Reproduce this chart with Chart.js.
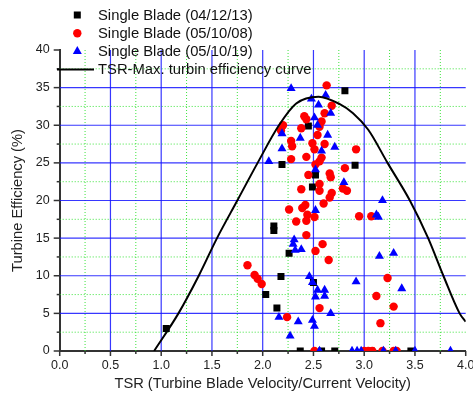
<!DOCTYPE html>
<html><head><meta charset="utf-8">
<script src="https://cdn.jsdelivr.net/npm/chart.js@4.4.0/dist/chart.umd.min.js"></script>
<style>html,body{margin:0;padding:0;background:#fff;overflow:hidden}</style>
</head><body>
<canvas id="c" width="473" height="401"></canvas>
<script>
// ---------- DATA ----------
const seriesLabels = ['Single Blade (04/12/13)', 'Single Blade (05/10/08)', 'Single Blade (05/10/19)', 'TSR-Max. turbin efficiency curve'];

const blade041213X = [1.05, 2.03, 2.14, 2.18, 2.11, 2.11, 2.26, 2.19, 2.45, 2.49, 2.52, 2.50, 2.91, 2.81, 2.37, 2.58, 2.71, 3.07, 3.46];
const blade041213Y = [3.0, 7.5, 5.7, 9.9, 16.0, 16.6, 13.0, 24.8, 29.9, 21.8, 23.4, 9.1, 24.7, 34.6, 0, 0, 0, 0, 0];

const blade051008X = [1.85, 1.92, 1.95, 1.99, 2.24, 2.20, 2.18, 2.28, 2.29, 2.28, 2.26, 2.33, 2.38, 2.41, 2.43, 2.43, 2.45, 2.38, 2.42, 2.39,
                      2.44, 2.51, 2.43, 2.43, 2.59, 2.52, 2.65, 2.56, 2.63, 2.68, 2.61, 2.58, 2.56, 2.54, 2.49, 2.51, 2.61, 2.58, 2.52, 2.56,
                      2.66, 2.67, 2.56, 2.56, 2.68, 2.66, 2.60, 2.92, 2.81, 2.79, 2.83, 2.95, 3.07, 3.23, 3.12, 3.29, 3.16,
                      2.51, 3.00, 3.04, 3.08, 3.18, 3.29, 3.32];
const blade051008Y = [11.4, 10.1, 9.6, 8.9, 4.5, 30.0, 29.3, 27.9, 27.2, 25.5, 18.8, 17.2, 29.6, 31.2, 30.8, 25.8, 23.4, 21.5, 19.4, 19.0,
                      18.1, 17.8, 17.3, 15.4, 14.2, 13.3, 12.1, 5.7, 35.3, 32.6, 31.6, 30.5, 29.8, 28.7, 27.6, 26.8, 27.5, 25.7, 24.8, 25.2,
                      23.6, 23.1, 22.2, 21.3, 21.0, 20.4, 19.6, 26.8, 24.3, 21.6, 21.3, 17.9, 17.9, 9.7, 7.3, 5.9, 3.7,
                      0, 0, 0, 0, 0, 0, 0];

const blade051019X = [2.28, 2.62, 2.48, 2.55, 2.67, 2.51, 2.54, 2.19, 2.37, 2.64, 2.19, 2.71, 2.58, 2.06, 2.52, 2.80, 2.52, 3.18, 3.12, 3.14,
                      2.31, 2.30, 2.38, 2.32, 3.15, 3.29, 2.46, 2.49, 2.92, 2.54, 2.61, 2.52, 2.61, 3.37, 2.16, 2.35, 2.49, 2.51, 2.67, 2.27,
                      2.56, 2.88, 2.93, 2.97, 3.19, 3.31, 3.50, 3.85];
const blade051019Y = [34.9, 34.0, 33.5, 32.7, 31.6, 31.0, 30.0, 28.9, 28.3, 28.7, 26.9, 27.1, 26.6, 25.2, 24.1, 22.4, 18.7, 20.0, 18.1, 17.8,
                      14.8, 14.2, 13.5, 13.4, 12.6, 13.0, 9.9, 9.1, 9.2, 8.1, 8.1, 7.2, 7.3, 8.3, 4.5, 3.9, 4.1, 3.3, 5.0, 2.0,
                      0, 0, 0, 0, 0, 0, 0, 0];

const curveX = [0.93, 1.17, 1.37, 1.55, 1.75, 1.95, 2.16, 2.33, 2.55, 2.76, 2.89, 3.04, 3.23, 3.45, 3.63, 3.78, 3.94, 4.00];
const curveY = [0.0, 5.0, 10.0, 15.0, 20.0, 25.0, 30.0, 32.9, 33.8, 32.8, 31.6, 29.4, 25.0, 20.0, 15.0, 10.0, 5.0, 3.9];

const xTickLabels = ['0.0','0.5','1.0','1.5','2.0','2.5','3.0','3.5','4.0'];
const yTickLabels = ['0','5','10','15','20','25','30','35','40'];

// ---------- STYLE ----------
const FAM = '"Liberation Sans", Arial, Helvetica, sans-serif';
const pts = (xs, ys) => xs.map((x, i) => ({x, y: ys[i]}));

const gridPlugin = {
  id: 'originGrid',
  beforeDatasetsDraw(chart) {
    const {ctx, chartArea: a, scales: {x, y}} = chart;
    const seg = (x1, y1, x2, y2) => { ctx.beginPath(); ctx.moveTo(x1, y1); ctx.lineTo(x2, y2); ctx.stroke(); };
    ctx.save();
    ctx.lineWidth = 1;
    ctx.strokeStyle = 'rgba(40,225,40,0.9)';
    ctx.setLineDash([1, 2]);
    for (let v = 2.5; v < 40; v += 5) { const p = y.getPixelForValue(v); seg(a.left, p, a.right, p); }
    for (let v = 0.25; v < 4; v += 0.5) { const p = x.getPixelForValue(v); seg(p, a.top, p, a.bottom); }
    ctx.setLineDash([]);
    ctx.strokeStyle = 'rgba(20,20,255,0.85)';
    ctx.lineWidth = 1.2;
    for (let v = 5; v < 40; v += 5) { const p = y.getPixelForValue(v); seg(a.left, p, a.right, p); }
    for (let v = 0.5; v < 4; v += 0.5) { const p = x.getPixelForValue(v); seg(p, a.top, p, a.bottom); }
    ctx.restore();
  },
  afterDraw(chart) {
    const {ctx, chartArea: a, scales: {x, y}} = chart;
    const seg = (x1, y1, x2, y2) => { ctx.beginPath(); ctx.moveTo(x1, y1); ctx.lineTo(x2, y2); ctx.stroke(); };
    ctx.save();
    // tick marks
    ctx.strokeStyle = '#333';
    ctx.lineWidth = 1.5;
    for (let i = 0; i <= 16; i++) {
      const v = i * 2.5; const p = y.getPixelForValue(v);
      seg(a.left, p, a.left - (i % 2 === 0 ? 6 : 3), p);
    }
    for (let i = 0; i <= 16; i++) {
      const v = i * 0.25; const p = x.getPixelForValue(v);
      seg(p, a.bottom, p, a.bottom + (i % 2 === 0 ? 5 : 3));
    }
    // legend
    const lx = 77.3, tx = 98, rows = [15, 33.3, 51.3, 69.5];
    ctx.font = '14.8px ' + FAM;
    ctx.textBaseline = 'middle';
    ctx.textAlign = 'left';
    ctx.fillStyle = '#000';
    ctx.fillRect(lx - 3.5, rows[0] - 3.5, 7, 7);
    ctx.fillStyle = '#ff0000';
    ctx.beginPath(); ctx.arc(lx, rows[1], 4.2, 0, Math.PI * 2); ctx.fill();
    ctx.fillStyle = '#0000ff';
    const r = 5.2;
    ctx.beginPath();
    ctx.moveTo(lx, rows[2] - r);
    ctx.lineTo(lx + r * Math.sin(2 * Math.PI / 3), rows[2] + r / 2);
    ctx.lineTo(lx - r * Math.sin(2 * Math.PI / 3), rows[2] + r / 2);
    ctx.closePath(); ctx.fill();
    ctx.strokeStyle = '#000'; ctx.lineWidth = 2;
    seg(57, rows[3], 94, rows[3]);
    ctx.fillStyle = '#111';
    seriesLabels.forEach((t, i) => ctx.fillText(t, tx, rows[i] + 0.5));
    ctx.restore();
  }
};

const scatterBase = {showLine: false, clip: 0, pointBorderWidth: 0, borderWidth: 0, pointHoverRadius: 0};

new Chart(document.getElementById('c'), {
  type: 'scatter',
  data: {
    datasets: [
      Object.assign({label: seriesLabels[3], data: pts(curveX, curveY), showLine: true, pointRadius: 0,
        borderColor: '#000', borderWidth: 2, cubicInterpolationMode: 'monotone', clip: 0, order: 0}),
      Object.assign({}, scatterBase, {label: seriesLabels[2], data: pts(blade051019X, blade051019Y),
        pointStyle: 'triangle', pointRadius: 5.2, backgroundColor: '#0000ff', borderColor: '#0000ff', order: 1}),
      Object.assign({}, scatterBase, {label: seriesLabels[1], data: pts(blade051008X, blade051008Y),
        pointStyle: 'circle', pointRadius: 4.2, backgroundColor: '#ff0000', borderColor: '#ff0000', order: 2}),
      Object.assign({}, scatterBase, {label: seriesLabels[0], data: pts(blade041213X, blade041213Y),
        pointStyle: 'rect', pointRadius: 4.95, backgroundColor: '#000', borderColor: '#000', order: 3})
    ]
  },
  options: {
    responsive: false,
    animation: false,
    events: [],
    devicePixelRatio: 1,
    layout: {padding: {top: 50, right: 7.3, bottom: 0, left: 0}},
    plugins: {legend: {display: false}, tooltip: {enabled: false}, title: {display: false}},
    scales: {
      x: {
        type: 'linear', min: 0, max: 4,
        ticks: {stepSize: 0.5, autoSkip: false, maxRotation: 0, padding: 7, color: '#222',
          font: {family: FAM, size: 12.5},
          callback: (v) => { const i = Math.round(v / 0.5); return Math.abs(v - i * 0.5) < 1e-9 ? xTickLabels[i] : ''; }},
        grid: {display: false, drawTicks: false},
        border: {display: true, color: '#333', width: 2},
        title: {display: true, text: 'TSR (Turbine Blade Velocity/Current Velocity)', color: '#222',
          font: {family: FAM, size: 14.7}, padding: {top: 4, bottom: 8}},
        afterFit(s) { s.height = 50; s.paddingLeft = 0; s.paddingRight = 0; }
      },
      y: {
        type: 'linear', min: 0, max: 40,
        ticks: {stepSize: 5, padding: 10, color: '#222', font: {family: FAM, size: 12.5},
          callback: (v) => { const i = Math.round(v / 5); return Math.abs(v - i * 5) < 1e-9 ? yTickLabels[i] : ''; }},
        grid: {display: false, drawTicks: false},
        border: {display: true, color: '#333', width: 2},
        title: {display: true, text: 'Turbine Efficiency (%)', color: '#222',
          font: {family: FAM, size: 14.7}, padding: {top: 9, bottom: 9}},
        afterFit(s) { s.width = 59.7; }
      }
    }
  },
  plugins: [gridPlugin]
});
</script>
</body></html>
